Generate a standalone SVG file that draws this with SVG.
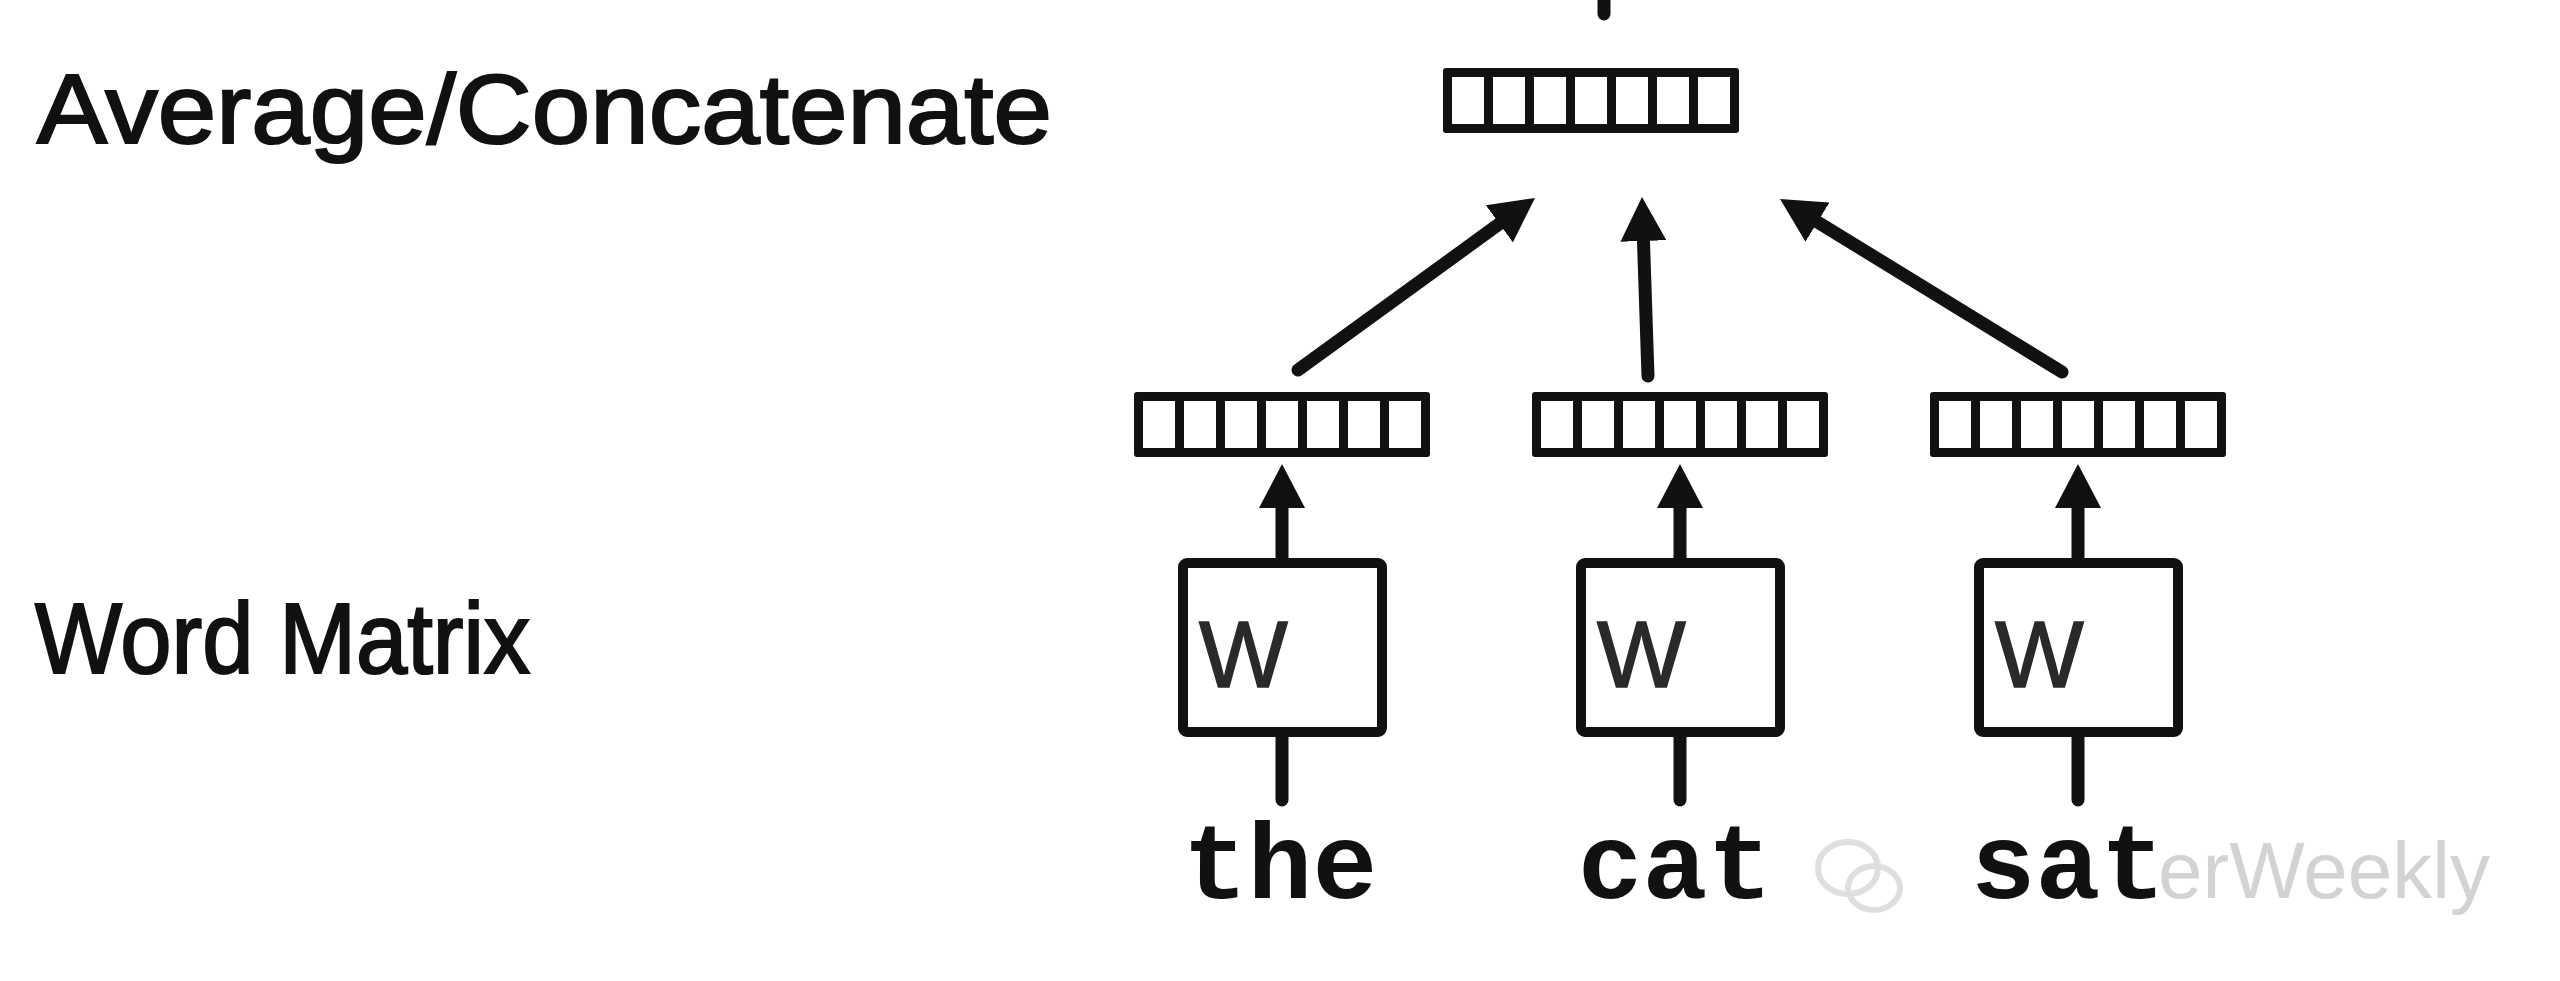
<svg xmlns="http://www.w3.org/2000/svg" xmlns:xlink="http://www.w3.org/1999/xlink" width="2560" height="981" viewBox="0 0 2560 981">
<style>
.lbl{font-family:"Liberation Sans",Arial,sans-serif;fill:#111;stroke:#111;stroke-width:2.2}
.w{font-family:"Liberation Sans",Arial,sans-serif;fill:#2a2a2a;stroke:#2a2a2a;stroke-width:1.5;font-size:94px}
.word{font-family:"Liberation Mono","Courier New",monospace;font-weight:bold;fill:#111;font-size:108px;text-anchor:middle}
.box{fill:#fff;stroke:#111;stroke-width:10}
.con{stroke:#111;stroke-width:13;fill:none;stroke-linecap:round}
.arr{marker-end:url(#ah)}
.wm{font-family:"Liberation Sans",Arial,sans-serif;fill:#cfcfcf;font-size:80px}
</style>
<defs>
<marker id="ah" markerUnits="userSpaceOnUse" markerWidth="44" markerHeight="46" viewBox="0 0 44 46" refX="14" refY="23" orient="auto">
<path d="M0,0 L44,23 L0,46 z" fill="#111"/>
</marker>
<g id="vec">
<rect x="0" y="0" width="296" height="65" rx="3" fill="#111"/>
<rect x="9" y="9" width="32" height="47" fill="#fff"/>
<rect x="50" y="9" width="32" height="47" fill="#fff"/>
<rect x="91" y="9" width="32" height="47" fill="#fff"/>
<rect x="132" y="9" width="32" height="47" fill="#fff"/>
<rect x="173" y="9" width="32" height="47" fill="#fff"/>
<rect x="214" y="9" width="32" height="47" fill="#fff"/>
<rect x="255" y="9" width="32" height="47" fill="#fff"/>
</g>
</defs>
<rect width="2560" height="981" fill="#fff"/>

<text class="lbl" x="37" y="143" font-size="98" textLength="1015" lengthAdjust="spacingAndGlyphs">Average/Concatenate</text>
<text class="lbl" x="35" y="673" font-size="100" textLength="495" lengthAdjust="spacingAndGlyphs">Word Matrix</text>

<g id="watermark" opacity="0.9">
<ellipse cx="1848" cy="868" rx="30" ry="26" fill="none" stroke="#dcdcdc" stroke-width="6"/>
<ellipse cx="1874" cy="888" rx="26" ry="22" fill="none" stroke="#dcdcdc" stroke-width="6"/>
<text class="wm" x="2158" y="898">erWeekly</text>
</g>

<g id="connectors">
<line class="con" x1="1604" y1="-10" x2="1604" y2="14"/>
<line class="con arr" x1="1298" y1="370" x2="1510.7" y2="215.6"/>
<line class="con arr" x1="1648" y1="376" x2="1643" y2="227"/>
<line class="con arr" x1="2062" y1="372" x2="1805.6" y2="214.7"/>
<line class="con arr" x1="1282" y1="560" x2="1282" y2="494"/>
<line class="con arr" x1="1680" y1="560" x2="1680" y2="494"/>
<line class="con arr" x1="2078" y1="560" x2="2078" y2="494"/>
<line class="con" x1="1282" y1="737" x2="1282" y2="800"/>
<line class="con" x1="1680" y1="737" x2="1680" y2="800"/>
<line class="con" x1="2078" y1="737" x2="2078" y2="800"/>
</g>

<g id="vec-out"><use xlink:href="#vec" href="#vec" x="1443" y="68"/></g>
<g id="vec-the"><use xlink:href="#vec" href="#vec" x="1134" y="392"/></g>
<g id="vec-cat"><use xlink:href="#vec" href="#vec" x="1532" y="392"/></g>
<g id="vec-sat"><use xlink:href="#vec" href="#vec" x="1930" y="392"/></g>

<g id="w-the"><rect class="box" x="1183" y="563" width="199" height="169" rx="4"/><text class="w" x="1199" y="687">W</text></g>
<g id="w-cat"><rect class="box" x="1581" y="563" width="199" height="169" rx="4"/><text class="w" x="1597" y="687">W</text></g>
<g id="w-sat"><rect class="box" x="1979" y="563" width="199" height="169" rx="4"/><text class="w" x="1995" y="687">W</text></g>

<g id="word-the"><text class="word" x="1280" y="898">the</text></g>
<g id="word-cat"><text class="word" x="1675" y="898">cat</text></g>
<g id="word-sat"><text class="word" x="2068" y="898">sat</text></g>
</svg>
